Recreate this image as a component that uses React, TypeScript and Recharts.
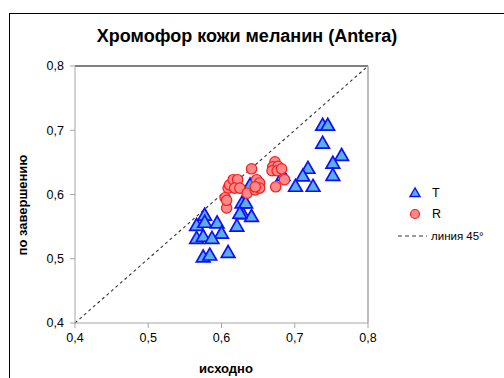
import React from 'react';
import {
  ScatterChart,
  Scatter,
  XAxis,
  YAxis,
  ReferenceLine,
} from 'recharts';

// T: before vs after (triangles)
const tBefore = [
  0.577, 0.566, 0.577, 0.594, 0.6, 0.566, 0.575, 0.587, 0.575, 0.584,
  0.609, 0.621, 0.629, 0.641, 0.628, 0.633, 0.639, 0.625, 0.684, 0.718,
  0.711, 0.701, 0.725, 0.738, 0.745, 0.738, 0.764, 0.752, 0.752,
];
const tAfter = [
  0.568, 0.552, 0.557, 0.556, 0.54, 0.532, 0.535, 0.532, 0.503, 0.506,
  0.51, 0.551, 0.57, 0.566, 0.587, 0.587, 0.615, 0.571, 0.63, 0.641,
  0.629, 0.613, 0.613, 0.708, 0.708, 0.68, 0.661, 0.649, 0.63,
];

// R: before vs after (circles)
const rBefore = [
  0.609, 0.605, 0.607, 0.607, 0.611, 0.616, 0.622, 0.618, 0.625, 0.635,
  0.646, 0.648, 0.652, 0.652, 0.646, 0.641, 0.673, 0.67, 0.677, 0.669,
  0.676, 0.682, 0.686, 0.674,
];
const rAfter = [
  0.61, 0.595, 0.579, 0.591, 0.615, 0.623, 0.623, 0.61, 0.61, 0.602,
  0.607, 0.623, 0.618, 0.61, 0.612, 0.64, 0.651, 0.643, 0.644, 0.637,
  0.637, 0.64, 0.623, 0.612,
];

const axisTicks = [0.4, 0.5, 0.6, 0.7, 0.8];

const tData = tBefore.map((x, i) => ({ x, y: tAfter[i] }));
const rData = rBefore.map((x, i) => ({ x, y: rAfter[i] }));

const font = 'Arial, "Liberation Sans", sans-serif';
const fmt = (v: number) => v.toFixed(1).replace('.', ',');

const Triangle = (props: any) => {
  const { cx, cy } = props;
  if (cx == null || cy == null) return null;
  const s = 6.8;
  return (
    <polygon
      points={`${cx},${cy - s} ${cx - s},${cy + s * 0.75} ${cx + s},${cy + s * 0.75}`}
      fill="#5ab0e6"
      stroke="#0f0fff"
      strokeWidth={1.7}
    />
  );
};

const Dot = (props: any) => {
  const { cx, cy } = props;
  if (cx == null || cy == null) return null;
  return <circle cx={cx} cy={cy} r={5.2} fill="#fb8a8a" stroke="#ff1a1a" strokeWidth={1.2} />;
};

export default function App() {
  return (
    <div
      style={{
        position: 'absolute',
        left: 0,
        top: 0,
        width: 504,
        height: 378,
        overflow: 'hidden',
        background: '#fff',
        fontFamily: font,
      }}
    >
      <div
        style={{
          position: 'absolute',
          left: 9,
          top: 13,
          width: 560,
          height: 420,
          border: '1px solid #000',
        }}
      />
      <div
        style={{
          position: 'absolute',
          left: 0,
          top: 26,
          width: 494,
          textAlign: 'center',
          fontSize: 18,
          fontWeight: 'bold',
        }}
      >
        Хромофор кожи меланин (Antera)
      </div>
      <div
        style={{
          position: 'absolute',
          left: 22,
          top: 205,
          transform: 'translate(-50%, -50%) rotate(-90deg)',
          fontSize: 13,
          fontWeight: 'bold',
          whiteSpace: 'nowrap',
        }}
      >
        по завершению
      </div>
      <div
        style={{
          position: 'absolute',
          left: 126,
          top: 361,
          width: 200,
          textAlign: 'center',
          fontSize: 13,
          fontWeight: 'bold',
        }}
      >
        исходно
      </div>

      <div style={{ position: 'absolute', left: 0, top: 0 }}>
        <ScatterChart
          width={504}
          height={378}
          margin={{ top: 66, right: 136, bottom: 0, left: 0 }}
        >
          <XAxis
            type="number"
            dataKey="x"
            domain={[0.4, 0.8]}
            ticks={axisTicks}
            tickFormatter={fmt}
            height={55}
            tickSize={5}
            tickMargin={5}
            stroke="#a6a6a6"
            tick={{ fill: '#000', fontSize: 12.5, fontFamily: font }}
            allowDataOverflow
          />
          <YAxis
            type="number"
            dataKey="y"
            domain={[0.4, 0.8]}
            ticks={axisTicks}
            tickFormatter={fmt}
            width={75}
            tickSize={5}
            tickMargin={6}
            stroke="#a6a6a6"
            tick={{ fill: '#000', fontSize: 12.5, fontFamily: font }}
            allowDataOverflow
          />
          <ReferenceLine y={0.8} stroke="#000" strokeWidth={1} />
          <ReferenceLine x={0.8} stroke="#a6a6a6" strokeWidth={1.5} />
          <ReferenceLine
            segment={[
              { x: 0.4, y: 0.4 },
              { x: 0.8, y: 0.8 },
            ]}
            stroke="#333"
            strokeWidth={1.1}
            strokeDasharray="3 3"
          />
          <Scatter data={tData} shape={<Triangle />} isAnimationActive={false} />
          <Scatter data={rData} shape={<Dot />} isAnimationActive={false} />
        </ScatterChart>
      </div>

      <svg
        width={130}
        height={70}
        style={{ position: 'absolute', left: 390, top: 180 }}
      >
        <polygon
          points="25,8 20,16.5 30,16.5"
          fill="#5ab0e6"
          stroke="#0f0fff"
          strokeWidth={1.4}
        />
        <text x={42} y={17} fontSize={12.5} fontFamily={font}>T</text>
        <circle cx={25} cy={34} r={4.5} fill="#fb8a8a" stroke="#ff1a1a" strokeWidth={1.2} />
        <text x={42} y={38} fontSize={12.5} fontFamily={font}>R</text>
        <line x1={8} y1={56} x2={37} y2={56} stroke="#333" strokeDasharray="4 3" />
        <text x={41} y={60} fontSize={11.5} fontFamily={font}>линия 45°</text>
      </svg>
    </div>
  );
}
